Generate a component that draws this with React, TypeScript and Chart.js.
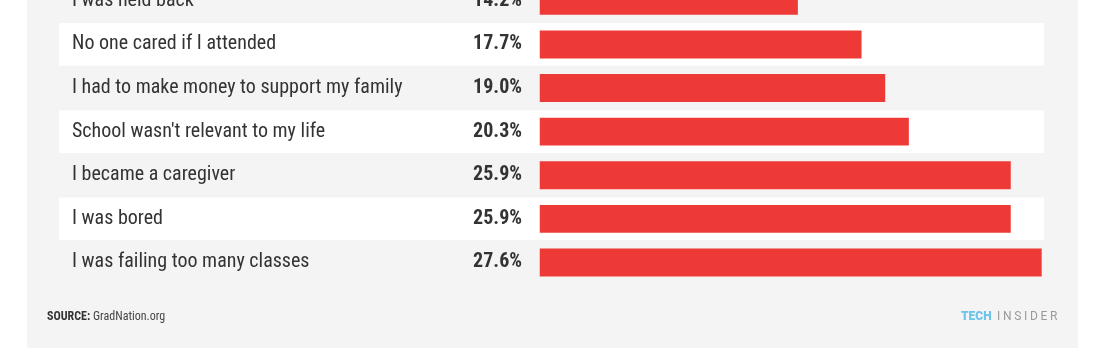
import React, { useEffect, useRef } from "react";
import { Chart, registerables } from "chart.js";

Chart.register(...registerables);

const categories = [
  "I was held back",
  "No one cared if I attended",
  "I had to make money to support my family",
  "School wasn't relevant to my life",
  "I became a caregiver",
  "I was bored",
  "I was failing too many classes",
];
const values = [14.2, 17.7, 19.0, 20.3, 25.9, 25.9, 27.6];
const stripedRows = [1, 3, 5];
const sourceLabel = "SOURCE:";
const sourceText = "GradNation.org";
const brandA = "TECH";
const brandB = "INSIDER";

const FONT = "'Roboto Condensed', 'Liberation Sans Narrow', 'DejaVu Sans Condensed', Roboto, sans-serif";
const OFFSET = 21; // canvas is shifted up so the first row is cut off
const W = 1102;
const H = 350 + OFFSET;

const decorPlugin = {
  id: "decor",
  beforeDraw(chart: any) {
    const ctx = chart.ctx;
    const y = chart.scales.y;
    ctx.save();
    ctx.fillStyle = "#ffffff";
    ctx.fillRect(0, 0, W, H);
    ctx.fillStyle = "#f4f4f4";
    ctx.fillRect(27, 0, 1078 - 27, 348 + OFFSET);
    const band = (y.bottom - y.top) / categories.length;
    ctx.fillStyle = "#ffffff";
    stripedRows.forEach((i) => {
      const c = y.getPixelForValue(i);
      ctx.fillRect(59, c - band / 2 + 0.5, 1044 - 59, band - 1);
    });
    ctx.restore();
  },
  afterDatasetsDraw(chart: any) {
    const ctx = chart.ctx;
    const y = chart.scales.y;
    ctx.save();
    ctx.fillStyle = "#333333";
    ctx.font = `bold 20px ${FONT}`;
    ctx.textAlign = "right";
    ctx.textBaseline = "middle";
    values.forEach((v, i) => {
      ctx.fillText(v.toFixed(1) + "%", 522, y.getPixelForValue(i));
    });
    // footer
    const fy = 317 + OFFSET;
    ctx.textAlign = "left";
    ctx.font = `bold 12px ${FONT}`;
    ctx.fillStyle = "#333333";
    ctx.fillText(sourceLabel, 47, fy);
    const sw = ctx.measureText(sourceLabel + " ").width;
    ctx.font = `12px ${FONT}`;
    ctx.fillStyle = "#444444";
    ctx.fillText(sourceText, 47 + sw, fy);
    // brand
    ctx.font = `900 12px Roboto, sans-serif`;
    ctx.fillStyle = "#6cc3ec";
    ctx.fillText(brandA, 961, fy);
    ctx.font = `12px Roboto, sans-serif`;
    ctx.fillStyle = "#9a9a9a";
    let x = 997;
    for (const ch of brandB) {
      ctx.fillText(ch, x, fy);
      x += ctx.measureText(ch).width + 2.7;
    }
    ctx.restore();
  },
};

export default function App() {
  const ref = useRef<HTMLCanvasElement>(null);
  useEffect(() => {
    if (!ref.current) return;
    const chart = new Chart(ref.current, {
      type: "bar",
      data: {
        labels: categories,
        datasets: [
          {
            data: values,
            backgroundColor: "#ee3a37",
            borderWidth: 0,
            barPercentage: 0.64,
            categoryPercentage: 1,
          },
        ],
      },
      options: {
        indexAxis: "y",
        animation: false,
        responsive: false,
        maintainAspectRatio: false,
        layout: { padding: { left: 72, right: 58.5, top: 0, bottom: 65.7 } },
        plugins: { legend: { display: false }, tooltip: { enabled: false } },
        scales: {
          x: { display: false, min: 0, max: 27.7 },
          y: {
            grid: { display: false },
            border: { display: false },
            afterFit: (s: any) => {
              s.width = 539.5 - 72;
              s.paddingTop = 0;
              s.paddingBottom = 0;
            },
            ticks: {
              crossAlign: "far",
              color: "#333333",
              font: { family: FONT, size: 20, lineHeight: 0.05 },
              padding: 0,
            },
          },
        },
      },
      plugins: [decorPlugin],
    });
    return () => chart.destroy();
  }, []);
  return (
    <div style={{ position: "fixed", left: 0, top: 0, width: W, height: 350, overflow: "hidden", background: "#fff" }}>
      <canvas ref={ref} width={W} height={H} style={{ position: "absolute", left: 0, top: -OFFSET, width: W, height: H }} />
    </div>
  );
}
